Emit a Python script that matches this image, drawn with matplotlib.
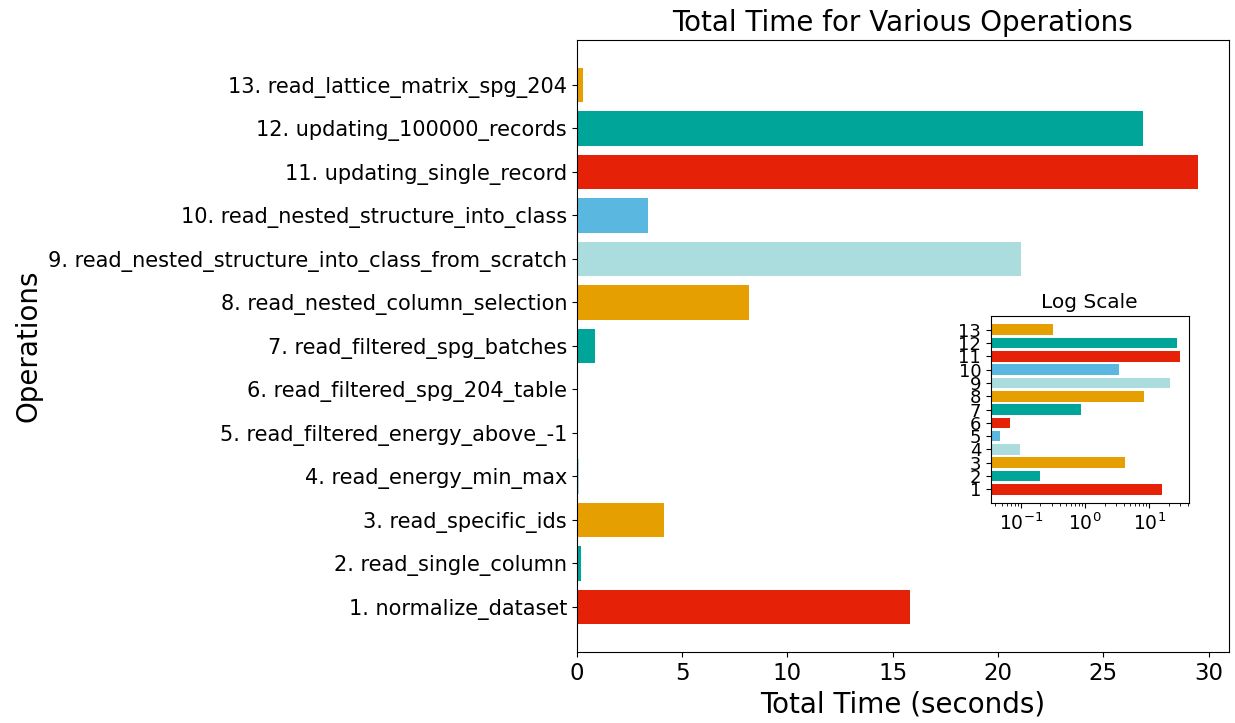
import matplotlib
matplotlib.use("Agg")
import matplotlib.pyplot as plt
import numpy as np

operations = [
    "1. normalize_dataset",
    "2. read_single_column",
    "3. read_specific_ids",
    "4. read_energy_min_max",
    "5. read_filtered_energy_above_-1",
    "6. read_filtered_spg_204_table",
    "7. read_filtered_spg_batches",
    "8. read_nested_column_selection",
    "9. read_nested_structure_into_class_from_scratch",
    "10. read_nested_structure_into_class",
    "11. updating_single_record",
    "12. updating_100000_records",
    "13. read_lattice_matrix_spg_204",
]
total_times = [15.8, 0.2, 4.14, 0.097, 0.047, 0.068, 0.86, 8.18, 21.1, 3.38, 29.48, 26.9, 0.31]
short_labels = [str(i + 1) for i in range(len(operations))]

palette = ["#E52208", "#00A599", "#E69F00", "#ACDDDE", "#5AB8E0"]
colors = [palette[i % len(palette)] for i in range(len(operations))]

fig = plt.figure(figsize=(12.35, 7.23), dpi=100)
ax = fig.add_axes([0.467, 0.098, 0.528, 0.847])
y = np.arange(len(operations))
ax.barh(y, total_times, color=colors, height=0.8)
ax.set_yticks(y)
ax.set_yticklabels(operations, fontsize=15)
ax.tick_params(axis="x", labelsize=16.5)
ax.set_xlabel("Total Time (seconds)", fontsize=20)
ax.set_ylabel("Operations", fontsize=20)
ax.set_title("Total Time for Various Operations", fontsize=20)

ins = fig.add_axes([0.8024, 0.304, 0.16, 0.259])
ins.barh(y, total_times, color=colors, height=0.8)
ins.set_xscale("log")
ins.set_yticks(y)
ins.set_yticklabels(short_labels, fontsize=13)
ins.tick_params(axis="x", labelsize=13.5)
ins.set_title("Log Scale", fontsize=14.5)

fig.savefig("out.png", dpi=100)
